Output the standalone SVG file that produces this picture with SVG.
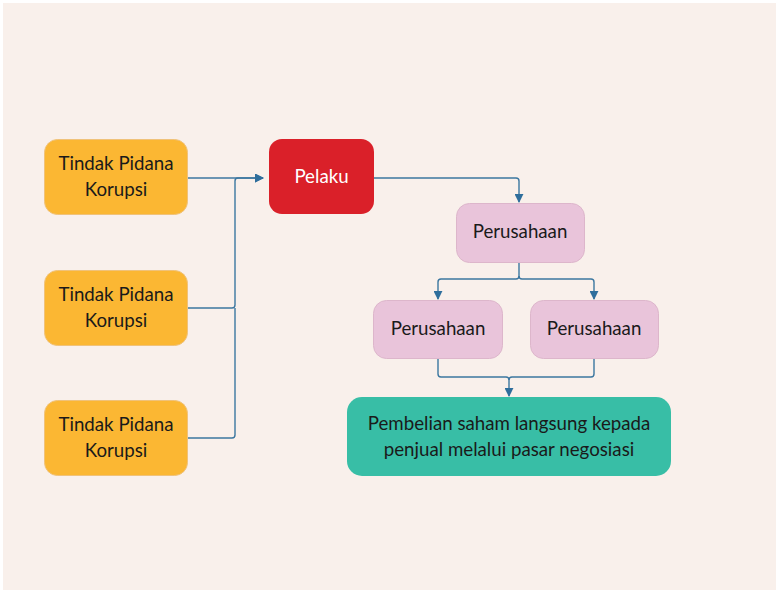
<svg xmlns="http://www.w3.org/2000/svg" width="776" height="591" viewBox="0 0 776 591">
  <style>
    .lbl { font-family: Lato, "Noto Sans", "Liberation Sans", sans-serif; font-size: 18.7px; fill: #1a1a1a; text-anchor: middle; }
    .lbl-w { fill: #ffffff; }
    .tp { fill: #FBB733; stroke: #F0C27A; stroke-width: 1; }
    .pk { fill: #E9C4DA; stroke: #DDB6CB; stroke-width: 1; }
    .conn path { fill: none; stroke: #3C77A0; stroke-width: 1.4; }
  </style>
  <defs>
    <marker id="arrow" viewBox="0 0 10 10" refX="9" refY="5" markerWidth="9" markerHeight="9" markerUnits="userSpaceOnUse" orient="auto">
      <path d="M0,0 L10,5 L0,10 Z" fill="#2F6E9C"/>
    </marker>
  </defs>

  <rect x="0" y="0" width="776" height="591" fill="#ffffff"/>
  <rect x="3" y="3" width="773" height="587" fill="#F9F0EB"/>

  <g class="conn">
    <path d="M188,178 H263" marker-end="url(#arrow)"/>
    <path d="M188,308 H232 Q235,308 235,305 V181 Q235,178 238,178 H263" marker-end="url(#arrow)"/>
    <path d="M188,438 H232 Q235,438 235,435 V308"/>
    <path d="M374,178 H516 Q519,178 519,181 V202" marker-end="url(#arrow)"/>
    <path d="M519,262 V276 Q519,279 516,279 H441 Q438,279 438,282 V299" marker-end="url(#arrow)"/>
    <path d="M519,276 Q519,279 522,279 H591 Q594,279 594,282 V299" marker-end="url(#arrow)"/>
    <path d="M438,359 V374 Q438,377 441,377 H506 Q509,377 509,380 V396" marker-end="url(#arrow)"/>
    <path d="M594,359 V374 Q594,377 591,377 H512 Q509,377 509,380"/>
  </g>

  <g id="tindak1">
    <rect class="tp" x="44.5" y="139.5" width="143" height="75" rx="13"/>
    <text class="lbl" x="116" y="170">Tindak Pidana</text>
    <text class="lbl" x="116" y="196">Korupsi</text>
  </g>
  <g id="tindak2">
    <rect class="tp" x="44.5" y="270.5" width="143" height="75" rx="13"/>
    <text class="lbl" x="116" y="301">Tindak Pidana</text>
    <text class="lbl" x="116" y="327">Korupsi</text>
  </g>
  <g id="tindak3">
    <rect class="tp" x="44.5" y="400.5" width="143" height="75" rx="13"/>
    <text class="lbl" x="116" y="431">Tindak Pidana</text>
    <text class="lbl" x="116" y="457">Korupsi</text>
  </g>
  <g id="pelaku">
    <rect x="269" y="139" width="105" height="75" rx="13" fill="#DA2029"/>
    <text class="lbl lbl-w" x="321.5" y="183">Pelaku</text>
  </g>
  <g id="perusahaan-top">
    <rect class="pk" x="456.5" y="203.5" width="128" height="59" rx="13"/>
    <text class="lbl" x="520" y="238">Perusahaan</text>
  </g>
  <g id="perusahaan-left">
    <rect class="pk" x="373.5" y="300.5" width="129" height="58" rx="13"/>
    <text class="lbl" x="438" y="335">Perusahaan</text>
  </g>
  <g id="perusahaan-right">
    <rect class="pk" x="530.5" y="300.5" width="128" height="58" rx="13"/>
    <text class="lbl" x="594" y="335">Perusahaan</text>
  </g>
  <g id="pembelian">
    <rect x="347" y="397" width="324" height="79" rx="15" fill="#38BEA6"/>
    <text class="lbl" x="509" y="430">Pembelian saham langsung kepada</text>
    <text class="lbl" x="509" y="456">penjual melalui pasar negosiasi</text>
  </g>
</svg>
